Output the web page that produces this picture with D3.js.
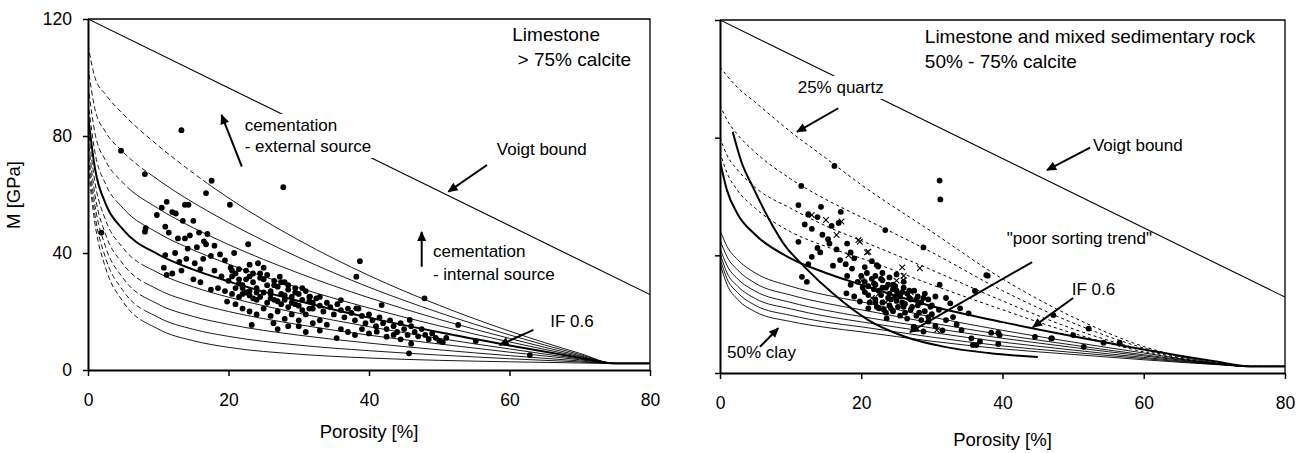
<!DOCTYPE html>
<html><head><meta charset="utf-8">
<script src="https://cdn.jsdelivr.net/npm/d3@7"></script>
<style>
body{margin:0;background:#fff;}
svg text{font-family:"Liberation Sans",Arial,sans-serif;fill:#000;}
</style></head><body>
<svg id="chart" width="1305" height="453"></svg>
<script>
// ---------------- DATA ----------------
const porosityGrid = [0, 1, 2.5, 5, 10, 15, 20, 30, 40, 50, 60, 70, 75, 80];
const xTicks = [0, 20, 40, 60, 80];
const yTicks = [0, 40, 80, 120];
const voigtPhi = [0, 80];
const voigtM = [120, 25.8];

// Left panel: iso-frame curves (IF 0.9 ... 0.0), M [GPa] on porosityGrid
const leftIF09 = [111.2, 99.9, 94.2, 87.5, 76.7, 67.3, 58.8, 44.4, 32.3, 22.1, 13.3, 5.7, 2.25, 2.25];
const leftIF08 = [103.7, 89.1, 81.4, 74.5, 65.0, 57.2, 50.4, 38.5, 28.3, 19.6, 12.0, 5.3, 2.25, 2.25];
const leftIF07 = [97.3, 80.9, 71.6, 64.0, 55.2, 48.6, 42.9, 33.1, 24.7, 17.3, 10.8, 4.9, 2.25, 2.25];
const leftIF06 = [91.8, 74.3, 63.6, 55.3, 46.8, 41.0, 36.2, 28.1, 21.2, 15.1, 9.6, 4.6, 2.25, 2.25];
const leftIF05 = [87.0, 68.8, 56.9, 48.0, 39.5, 34.3, 30.3, 23.6, 17.9, 12.9, 8.4, 4.2, 2.25, 2.25];
const leftIF04 = [82.8, 64.0, 51.3, 41.7, 33.2, 28.4, 24.9, 19.4, 14.8, 10.8, 7.2, 3.8, 2.25, 2.25];
const leftIF03 = [79.1, 59.8, 46.4, 36.2, 27.5, 23.1, 20.0, 15.5, 11.9, 8.9, 6.1, 3.5, 2.25, 2.25];
const leftIF02 = [75.7, 56.2, 42.1, 31.4, 22.5, 18.3, 15.6, 11.9, 9.2, 6.9, 4.9, 3.1, 2.25, 2.25];
const leftIF01 = [72.7, 52.9, 38.3, 27.1, 18.0, 13.9, 11.5, 8.5, 6.6, 5.1, 3.85, 2.76, 2.25, 2.25];
const leftIF00 = [70.0, 49.9, 34.9, 23.3, 14.0, 10.0, 7.75, 5.4, 4.1, 3.3, 2.8, 2.4, 2.25, 2.25];

// Right panel: 25% quartz (dotted) curves
const rightQ1 = [104, 101, 97, 92, 82, 73, 64, 48, 32, 19, 9, 3.5, 2.25, 2.25];
const rightQ2 = [91, 86, 81, 75, 66, 59, 53, 41, 28, 17, 8.5, 3.4, 2.25, 2.25];
const rightQ3 = [80, 74, 69, 63, 56, 50, 45, 35, 24.5, 15, 7.8, 3.3, 2.25, 2.25];
const rightQ4 = [75, 68, 62, 56, 48, 43, 39, 30, 21.5, 13.5, 7.2, 3.2, 2.25, 2.25];
// Right panel: pure calcite IF 0.6 (bold)
const rightIFbold = [72, 62, 54, 47, 39, 34, 30, 22.7, 17.3, 12.5, 8, 4, 2.25, 2.25];
// Right panel: clay curves (thin solid), down to 50% clay
const rightC1 = [48.6, 43, 38.5, 34, 29.5, 26.5, 24.2, 19, 14.5, 10.5, 6.8, 3.4, 2.25, 2.25];
const rightC2 = [45.2, 39.5, 35, 30.5, 26.5, 23.7, 21.5, 17, 13, 9.5, 6.2, 3.3, 2.25, 2.25];
const rightC3 = [42.4, 36.5, 32, 27.8, 24, 21.3, 19.2, 15.3, 11.8, 8.7, 5.8, 3.2, 2.25, 2.25];
const rightC4 = [40.7, 34, 29.5, 25.3, 21.8, 19.3, 17.4, 13.8, 10.5, 7.8, 5.3, 3.1, 2.25, 2.25];
const rightC5 = [39, 32, 27.3, 23, 19.6, 17.3, 15.7, 12.2, 9.2, 7.0, 4.9, 3, 2.25, 2.25];
const rightC6 = [37.3, 30, 25, 20.8, 17.5, 15.5, 14, 10.8, 8.2, 6.3, 4.5, 2.9, 2.25, 2.25];
// Right panel: "poor sorting trend"
const sortingPhi = [1.8, 3, 4.7, 7, 9, 12, 16, 21, 26, 32, 38, 45];
const sortingM = [82, 72, 63, 52, 44, 36, 27, 18, 12.5, 8.8, 6.8, 5.4];

// Left panel samples [porosity %, M GPa]
const leftSamples = [
 [1.9,47],[4.7,75],[8.1,67],[13.3,82],[16.8,60.5],[17.6,64.7],[20.2,56.5],[27.8,62.5],[38.7,37.2],[38.2,31.9],
 [47.9,24.5],[52.7,15.4],[55.2,9.9],[62.9,5.1],[8.1,47.3],[11,39.3],[11.2,32.5],
 [10.5,55.5],[11.2,57.5],[12,54],[12.5,53.5],[9.8,53],[13.8,56.5],[14.3,56.5],[11,49],[11.5,47],[8.2,48.5],
 [13.5,51],[15,51],[12.8,45],[13.8,45],[14.5,46],[15.8,47],[16.5,44],[17,46.5],[14.2,41.5],[15.5,42],[16.8,43],
 [18,42.5],[12.4,40],[13,37],[14,38],[15.2,36.5],[16.4,38],[17.5,39],[18.8,39.5],[19.5,37.5],[20.3,35],
 [10.8,35],[12,33],[13.3,34],[16,34.5],[18,34],[20.8,40],[22.8,43],
 [19,32],[20,30.5],[21,33],[21.5,31],[22,29],[22.5,34],[23,32],[23.5,30],[24,28],[24.5,33],[25,31],[25.5,29],
 [26,27],[26.5,30.5],[27,28.5],[27.5,26],[28,30],[28.5,27.5],[29,25],[29.5,28],[30,26],[30.5,24],[31,27],
 [31.5,25],[32,23],[19.5,27],[20.5,26],[21.5,25],[22.5,26.5],[23.5,24.5],[24.5,25],[25.5,23],[26.5,24],
 [27.5,22.5],[28.5,21.5],[29.5,22.5],[30.5,20.5],[31.5,21],[21,22.5],[22,21],[23,20],[24,19],[25,21],[26,18.5],
 [27,20],[28,17.5],[29,19],[30,17],[22,28],[23,27],[24,26.5],[26,26],[28,24],[21.5,29.5],[20.5,34],[23,36],
 [25,35],[19.8,23.4],[23.3,15.4],[17.5,27.5],[18.5,28],[16,30],[15,31],
 [20.5,32],[21.5,34.5],[22.5,31],[23.5,33],[24.5,31.5],[25.5,32.5],[26.5,29],[27.5,30],[28.5,29],[29.5,26.5],
 [30.5,28],[31.5,23.5],[21,28],[22,26],[23,25.5],[24,24],[25,26.5],[26,24.5],[27,23.5],[28,25.5],[29,23],
 [30,22],[31,19],[32,21],[33,25],
 [32.5,24.5],[33,22],[33.5,20],[34,23],[34.5,21.5],[35,19],[35.5,22.5],[36,20.5],[36.5,18],[37,21],[37.5,19.5],
 [38,17],[38.5,21],[39,18.5],[39.5,16],[40,19],[40.5,17],[41,15],[41.5,18],[42,16],[42.5,14],[43,17],[43.5,15],
 [44,13],[44.5,16],[45,14],[45.5,12],[46,15],[46.5,13],[47,11.5],[47.5,14],[48,12],[48.5,10.5],[49,12.5],
 [49.5,11],[50,10],[50.5,9.5],[51,11],[33,17],[34,15.5],[35.4,10.9],[36,14],[37,13],[38,12],[39,14],[40,12.5],
 [41.1,13.1],[42.5,11.4],[43.5,12],[44.5,10.5],[45.7,5.7],[46,9],[30,15],[31,13],[32,16],[33,13.5],[26.4,16],
 [27,14],[28.5,15],[36,23.9],[38.2,21.1],[41.8,22.2],[45.8,17.1],[31.6,25.1],[27.3,31.9],[24.2,36.5]
];
// Right panel samples (dots)
const rightSamples = [
 [11.5,63.6],[11.1,57.1],[14.3,56.5],[17.1,54.8],[12.5,54],[13.8,53],[12,50.5],[13,49],[11.1,44.6],[14.5,47],
 [15.3,45.5],[15.8,50],[16.8,51],[13.8,42.5],[14.2,41],[15.5,44],[16.5,42],[17,38.4],[18,44],[18.5,41],[17.8,37],
 [19,39],[18.7,35.5],[13,39.5],[12.5,37],[11.6,32.7],[12.3,31],[16,36.5],[20.5,36],[22.4,36.2],[21.5,38],
 [23.4,48.6],[22.2,36.7],[28.8,42.7],[16.2,70.4],
 [20,33],[20.5,31],[21,29.5],[21.5,32],[22,30],[22.5,28],[23,31.5],[23.5,29],[24,27],[24.5,30],[25,28],[25.5,26],
 [26,29],[26.5,27],[27,25],[27.5,28],[28,26],[28.5,24],[29,27],[29.5,25],[30,23],[21,26.5],[22,25],[23,24],
 [24,23],[25,24.5],[26,22.5],[27,21.5],[28,23],[29,21],[30,20],[22.5,22],[23.5,20.5],[24.5,21],[25.5,19.5],
 [26.5,18.5],[27.4,15.7],[28.8,14.1],[23.6,18.6],[21,22],[19.8,24.3],[17.9,27.1],[20.5,27.5],[22,33],[24,32.5],
 [26,31],[23,34],[25,33.5],[21.8,28.5],[22.8,26.5],[23.8,25.5],[24.8,26],[25.8,24],[26.8,25.5],[27.8,19.5],
 [28.5,18],[29.5,19],[24.2,22],[25.2,22.5],[26.2,20.5],[22,24],[23,29],[24.5,28.5],[20.2,29],[19.5,31],[18.5,30],
 [20.8,34],[21.8,30.5],[22.8,32],[23.8,30],[24.8,29.5],[25.8,27.5],[26.8,28],[27.8,25],[28.8,25.5],[29.8,22.5],
 [21.2,24],[22.2,22.5],[23.2,21.5],[24.2,25],[25.2,27],[26.2,23.5],[27.2,22.5],[28.2,20.5],[19,26],[18,33],
 [31.1,65.4],[31.2,59],[37.9,33.1],[31.1,30],[36.1,27.9],[32.6,23.7],[34,22],[35.2,20.3],[34.2,14.6],[35.6,11.8],
 [36.3,9.5],[35.8,9.5],[36.8,10.7],[38.4,13.7],[39.4,13.6],[39.6,12.9],[39.4,9.9],[33,19],[31,21.5],[32,18],
 [33.5,16.5],[30.5,26],[32,25.5],[29.5,17.5],[30.5,16],[31.5,14.5],[37.7,33.3],
 [44.6,12.3],[46.9,11.8],[50,12.9],[52.2,15.1],[54.3,10.3],[56.6,10.3],[51.5,8.9],[47.2,19.7],[47,11.8]
];
// Right panel samples (crosses)
const rightCrosses = [
 [16.5,46.9],[19.8,44.6],[20.8,41],[17.2,51.5],[13,53.7],[19.6,45.2],[21,41.2],[20.1,31.4],[25,31.4],[26,33],
 [24.5,29],[28.3,35.6],[26,31.6],[30.7,14.6],[25.8,35.9],[22.5,27],[23.5,24],[27,27.5],[21.5,25.5],[15,52],[18.2,40]
];

// ---------------- DRAWING ----------------
const svg = d3.select("#chart");
svg.append("rect").attr("width", 1305).attr("height", 453).attr("fill", "#fff");
const defs = svg.append("defs");
defs.append("marker").attr("id", "arrow").attr("viewBox", "0 0 10 10")
  .attr("refX", 9).attr("refY", 5).attr("markerWidth", 11).attr("markerHeight", 10)
  .attr("markerUnits", "userSpaceOnUse").attr("orient", "auto")
  .append("path").attr("d", "M0,0.5L10,5L0,9.5Z").attr("fill", "#000");

const toPts = (xs, ys) => xs.map((x, i) => [x, ys[i]]);
let clipId = 0;

function makePanel(cfg) {
  const xs = d3.scaleLinear().domain([0, 80]).range(cfg.xr);
  const ys = d3.scaleLinear().domain([0, 120]).range(cfg.yr);
  const g = svg.append("g");
  const line = d3.line().x(d => xs(d[0])).y(d => ys(d[1])).curve(d3.curveMonotoneX);

  const pid = "pc" + (clipId++);
  defs.append("clipPath").attr("id", pid).append("rect")
    .attr("x", cfg.xr[0]).attr("y", cfg.yr[1]).attr("width", cfg.xr[1] - cfg.xr[0]).attr("height", cfg.yr[0] - cfg.yr[1]);
  const plot = g.append("g").attr("clip-path", `url(#${pid})`);

  function curve(values, opts) {
    const pts = toPts(porosityGrid, values);
    const split = opts.dashUntil || 0;
    if (split > 0) {
      const c1 = "cl" + (clipId++), c2 = "cl" + (clipId++);
      defs.append("clipPath").attr("id", c1).append("rect")
        .attr("x", 0).attr("y", 0).attr("width", xs(split)).attr("height", 453);
      defs.append("clipPath").attr("id", c2).append("rect")
        .attr("x", xs(split)).attr("y", 0).attr("width", 1305).attr("height", 453);
      plot.append("path").attr("d", line(pts)).attr("clip-path", `url(#${c1})`)
        .attr("fill", "none").attr("stroke", "#000").attr("stroke-width", opts.w || 0.9)
        .attr("stroke-dasharray", "5,3");
      plot.append("path").attr("d", line(pts)).attr("clip-path", `url(#${c2})`)
        .attr("fill", "none").attr("stroke", "#000").attr("stroke-width", opts.w || 0.9);
    } else {
      plot.append("path").attr("d", line(pts)).attr("fill", "none").attr("stroke", "#000")
        .attr("stroke-width", opts.w || 0.9).attr("stroke-dasharray", opts.dash || null);
    }
  }
  function rawLine(pts, w) {
    plot.append("path").attr("d", line(pts))
      .attr("fill", "none").attr("stroke", "#000").attr("stroke-width", w);
  }
  function dots(data) {
    plot.append("g").selectAll("circle").data(data).join("circle")
      .attr("cx", d => xs(d[0])).attr("cy", d => ys(d[1])).attr("r", 2.9).attr("fill", "#000");
  }
  function crosses(data) {
    plot.append("g").selectAll("path").data(data).join("path")
      .attr("d", d => { const x = xs(d[0]), y = ys(d[1]), s = 2.8;
        return `M${x-s},${y-s}L${x+s},${y+s}M${x-s},${y+s}L${x+s},${y-s}`; })
      .attr("stroke", "#000").attr("stroke-width", 1.1);
  }

  const ya = g.append("g").attr("transform", `translate(${cfg.xr[0]},0)`)
    .call(d3.axisLeft(ys).tickValues(yTicks).tickSize(5).tickSizeOuter(0).tickPadding(11)
      .tickFormat(cfg.yLabels ? d3.format("d") : ""));
  const xa = g.append("g").attr("transform", `translate(0,${cfg.yr[0]})`)
    .call(d3.axisBottom(xs).tickValues(xTicks).tickSize(6).tickSizeOuter(0).tickPadding(18).tickFormat(d3.format("d")));
  [ya, xa].forEach(a => {
    a.select(".domain").attr("stroke-width", 2);
    a.selectAll(".tick line").attr("stroke-width", 1.5);
    a.selectAll("text").attr("font-size", 17.5).style("font-family", '"Liberation Sans",Arial,sans-serif');
  });
  g.append("path").attr("d", `M${cfg.xr[0]},${cfg.yr[1]}H${cfg.xr[1]}V${cfg.yr[0]}`)
    .attr("fill", "none").attr("stroke", "#000").attr("stroke-width", 1.3);

  g.append("text").attr("x", (cfg.xr[0] + cfg.xr[1]) / 2).attr("y", cfg.xLabelY)
    .attr("text-anchor", "middle").attr("font-size", 18.5).text("Porosity [%]");

  return {xs, ys, g, plot, curve, rawLine, dots, crosses};
}

function annot(P, items) {
  const ag = P.g.append("g");
  items.forEach(it => {
    if (it.arrow) {
      ag.append("line").attr("x1", P.xs(it.arrow[0])).attr("y1", P.ys(it.arrow[1]))
        .attr("x2", P.xs(it.arrow[2])).attr("y2", P.ys(it.arrow[3]))
        .attr("stroke", "#000").attr("stroke-width", 2).attr("marker-end", "url(#arrow)");
    }
    if (it.text) {
      const lines = [].concat(it.text);
      const tg = ag.append("g");
      lines.forEach((s, i) => {
        tg.append("text").attr("x", P.xs(it.at[0])).attr("y", P.ys(it.at[1]) + i * (it.lh || 22))
          .attr("font-size", it.size || 17).attr("xml:space", "preserve").text(s);
      });
      if (it.bg) {
        const b = tg.node().getBBox();
        tg.insert("rect", ":first-child").attr("x", b.x - 3).attr("y", b.y - 2)
          .attr("width", b.width + 6).attr("height", b.height + 4).attr("fill", "#fff");
      }
    }
  });
}

// ---------- Left panel ----------
const L = makePanel({xr: [88, 650], yr: [370, 19], yLabels: true, xLabelY: 438});
const leftCurves = [leftIF09, leftIF08, leftIF07, leftIF06, leftIF05, leftIF04, leftIF03, leftIF02, leftIF01, leftIF00];
const leftDashUntil = [17, 9, 6, 4, 0, 8, 8, 8, 8, 8];
leftCurves.forEach((c, i) => L.curve(c, {dashUntil: leftDashUntil[i], w: i === 4 ? 2 : 0.9}));
L.rawLine(toPts(voigtPhi, voigtM), 1.1);
L.dots(leftSamples);
annot(L, [
  {text: ["cementation", "- external source"], at: [22.3, 81.7], lh: 21, bg: true},
  {arrow: [21.9, 69.5, 19.0, 87.2]},
  {text: ["cementation", "- internal source"], at: [49.1, 38.6], lh: 23},
  {arrow: [47.5, 35.3, 47.5, 47.2]},
  {text: "Voigt bound", at: [58.2, 73.5]},
  {arrow: [56.8, 70.1, 51.3, 61.0]},
  {text: "IF 0.6", at: [65.8, 14.7]},
  {arrow: [63.4, 13.7, 58.6, 8.5]},
  {text: ["Limestone", " > 75% calcite"], at: [60.4, 112.4], size: 19, lh: 25}
]);
svg.append("text").attr("transform", "translate(20,195) rotate(-90)").attr("text-anchor", "middle")
  .attr("font-size", 18.5).text("M [GPa]");

// ---------- Right panel ----------
const R = makePanel({xr: [720, 1285], yr: [373, 20], yLabels: false, xLabelY: 446});
[rightC1, rightC2, rightC3, rightC4, rightC5, rightC6].forEach(c => R.curve(c, {w: 0.9}));
[rightQ1, rightQ2, rightQ3, rightQ4].forEach(c => R.curve(c, {w: 1, dash: "3,3"}));
R.curve(rightIFbold, {w: 2});
R.rawLine(toPts(sortingPhi, sortingM), 2);
R.rawLine(toPts(voigtPhi, voigtM), 1.1);
R.dots(rightSamples);
R.crosses(rightCrosses);
annot(R, [
  {text: "25% quartz", at: [11.0, 95.2], bg: true},
  {arrow: [16.75, 90.0, 10.9, 82.0]},
  {text: "Voigt bound", at: [52.8, 75.5]},
  {arrow: [52.4, 76.6, 46.3, 69.0]},
  {text: "\"poor sorting trend\"", at: [40.6, 43.8]},
  {arrow: [44.2, 37.7, 26.9, 13.9]},
  {text: "IF 0.6", at: [49.8, 26.5]},
  {arrow: [50.0, 25.5, 44.3, 15.6]},
  {text: "50% clay", at: [1.0, 5.1]},
  {arrow: [5.66, 8.9, 8.25, 15.2]},
  {text: ["Limestone and mixed sedimentary rock", "50% - 75% calcite"], at: [29.0, 112.2], size: 19, lh: 25}
]);
</script>
</body></html>
